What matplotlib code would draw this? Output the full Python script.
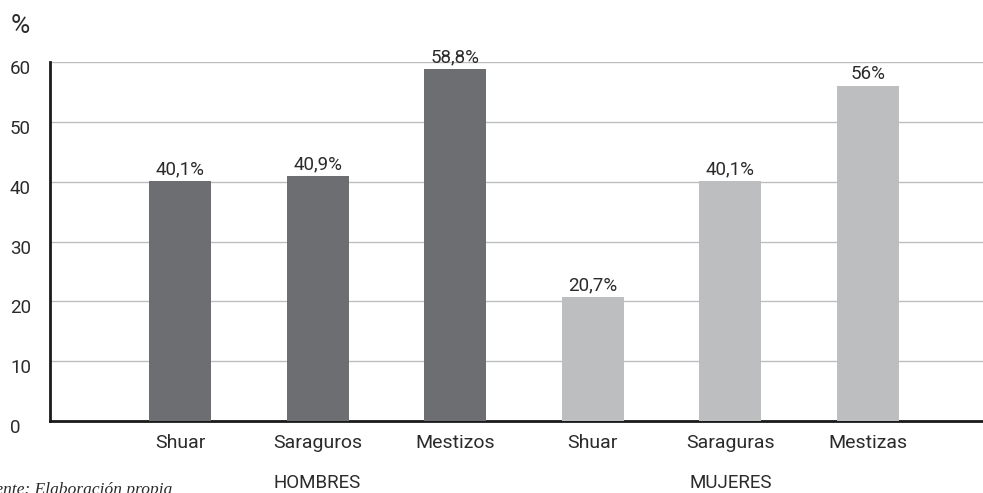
import matplotlib.pyplot as plt
from matplotlib.transforms import ScaledTranslation

categories = ['Shuar', 'Saraguros', 'Mestizos', 'Shuar', 'Saraguras', 'Mestizas']
values = [40.1, 40.9, 58.8, 20.7, 40.1, 56.0]
value_labels = ['40,1%', '40,9%', '58,8%', '20,7%', '40,1%', '56%']
groups = ['HOMBRES', 'MUJERES']
y_ticks = [0, 10, 20, 30, 40, 50, 60]

dark = '#6d6e71'
light = '#bcbec0'
text_color = '#2b2b2b'
colors = [dark] * 3 + [light] * 3

plt.rcParams['font.family'] = ['Roboto', 'DejaVu Sans']

fig = plt.figure(figsize=(9.83, 4.93), dpi=100)
ax = fig.add_axes([50 / 983, 1 - 421 / 493, 933 / 983, 359 / 493])

x = list(range(len(categories)))
ax.bar(x, values, width=0.45, color=colors, zorder=3)

for xi, v, lab in zip(x, values, value_labels):
    ax.text(xi, v + 0.5, lab, ha='center', va='bottom', fontsize=13.5,
            color=text_color, zorder=4)

ax.set_xlim(-0.945, 5.836)
ax.set_ylim(0, 60)
ax.set_yticks(y_ticks)
ax.set_yticklabels([str(t) for t in y_ticks], fontsize=13.5, color=text_color,
                   ha='left')
# labels sit flush left, about 40 px from the axis line and a bit below the grid line
ax.tick_params(axis='y', length=0, pad=28.8)
shift = ScaledTranslation(0, -5 / 100, fig.dpi_scale_trans)
for lab in ax.get_yticklabels():
    lab.set_transform(lab.get_transform() + shift)
ax.tick_params(axis='x', length=0, pad=9)
ax.set_xticks(x)
ax.set_xticklabels(categories, fontsize=14, color=text_color)

ax.yaxis.grid(True, color='#bdbdbd', linewidth=1, zorder=0)
ax.set_axisbelow(True)

for side in ['top', 'right']:
    ax.spines[side].set_visible(False)
ax.spines['left'].set_color('#1a1a1a')
ax.spines['left'].set_linewidth(2)
ax.spines['bottom'].set_color('#1a1a1a')
ax.spines['bottom'].set_linewidth(2)

# group labels under each block of three bars
for g, center in zip(groups, [1, 4]):
    ax.text(center, -10.3, g, ha='center', va='center', fontsize=13.5,
            color=text_color, clip_on=False)

fig.text(11 / 983, 1 - 26 / 493, '%', fontsize=19, color=text_color,
         ha='left', va='center')

fig.text(-24 / 983, 1 - 490 / 493, 'Fuente: Elaboración propia',
         fontsize=12.5, style='italic', family=['Liberation Serif', 'DejaVu Serif'],
         color=text_color, ha='left', va='center')

fig.savefig('out.png', dpi=100)
